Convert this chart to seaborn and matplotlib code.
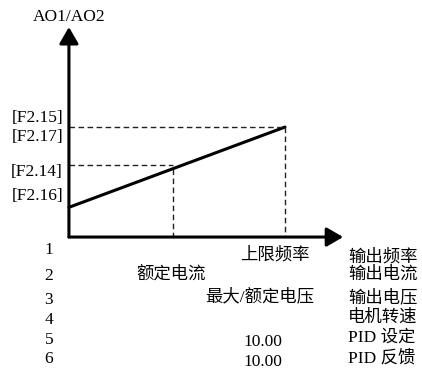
import numpy as np
import pandas as pd
import seaborn as sns
import matplotlib.pyplot as plt

# 输出特性曲线数据（x: 相对上限频率, y: 相对输出）
line_x = [0.0, 1.0]
line_y = [0.27, 1.0]
rated_x = 0.48      # 额定电流位置
rated_y = 0.655     # [F2.14] 水平虚线
upper_x = 1.0       # 上限频率
upper_y = 1.0       # [F2.15]/[F2.17]

# 左侧参数标签及其位置
left_labels = ["[F2.15]", "[F2.17]", "[F2.14]", "[F2.16]"]
left_label_y = [1.082, 0.909, 0.591, 0.373]

# 底部表格
row_nums = ["1", "2", "3", "4", "5", "6"]
row_y = [-0.118, -0.355, -0.573, -0.755, -0.936, -1.109]
mid_labels = ["上限频率", "额定电流", "最大/额定电压", "", "10.00", "10.00"]
mid_x = [0.954, 0.472, 0.884, 0.0, 0.898, 0.898]
mid_y = [-0.164, -0.345, -0.545, 0.0, -0.955, -1.136]
right_labels = ["输出频率", "输出电流", "输出电压", "电机转速", "PID 设定", "PID 反馈"]
right_y = [-0.182, -0.345, -0.555, -0.736, -0.918, -1.100]

sns.set_theme(style="white")
plt.rcParams["font.family"] = ["Liberation Serif", "Noto Sans CJK SC"]
fs = 12.5

fig = plt.figure(figsize=(4.22, 3.72), dpi=100)
ax = fig.add_axes([0, 0, 1, 1])
ax.set_xlim(-0.319, 1.634)
ax.set_ylim(-1.227, 2.155)
ax.axis("off")

# 坐标轴（带箭头）
arrow = dict(arrowstyle="-|>,head_length=0.5,head_width=0.29", lw=2.2,
             color="black", mutation_scale=20, shrinkA=0, shrinkB=0)
ax.annotate("", xy=(0, 1.909), xytext=(0, 0), arrowprops=arrow)
ax.annotate("", xy=(1.269, 0), xytext=(0, 0), arrowprops=arrow)

# 输出曲线
df = pd.DataFrame({"x": line_x, "y": line_y})
sns.lineplot(data=df, x="x", y="y", ax=ax, color="black", lw=2.2, legend=False)

# 虚线
dash = dict(color="#222222", lw=1.0, ls=(0, (4, 2.5)))
ax.plot([0, upper_x], [upper_y, upper_y], **dash)
ax.plot([upper_x, upper_x], [upper_y, 0], **dash)
ax.plot([0, rated_x], [rated_y, rated_y], **dash)
rated_line_y = np.interp(rated_x, line_x, line_y)
ax.plot([rated_x, rated_x], [rated_line_y, 0], **dash)

# 文字
ax.text(0.0, 2.0, "AO1/AO2", ha="center", va="center", fontsize=fs, color="black")
for lab, y in zip(left_labels, left_label_y):
    ax.text(-0.028, y, lab, ha="right", va="center", fontsize=fs, color="black")
for lab, y in zip(row_nums, row_y):
    ax.text(-0.093, y, lab, ha="center", va="center", fontsize=fs, color="black")
for lab, x, y in zip(mid_labels, mid_x, mid_y):
    if lab:
        ax.text(x, y, lab, ha="center", va="center", fontsize=fs, color="black")
for lab, y in zip(right_labels, right_y):
    ax.text(1.292, y, lab, ha="left", va="center", fontsize=fs, color="black")

fig.savefig("out.png", dpi=100)
